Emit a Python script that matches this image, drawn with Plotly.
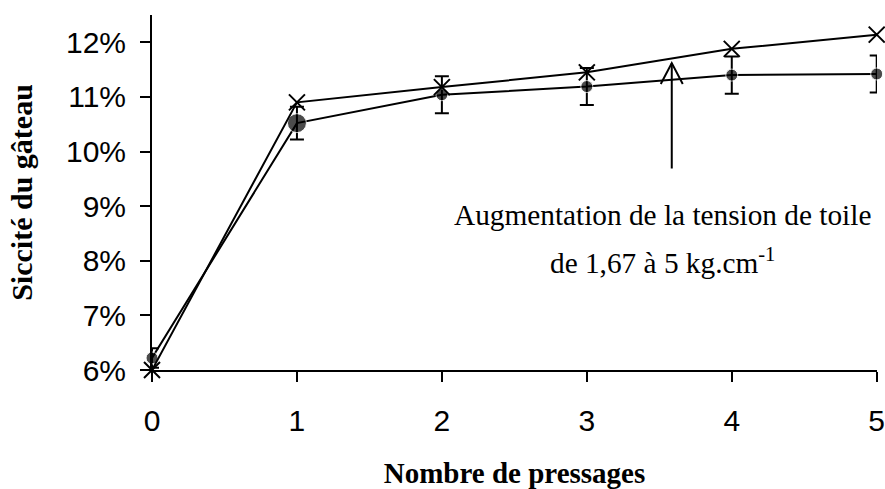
import plotly.graph_objects as go

pressages = [0, 1, 2, 3, 4, 5]
siccite_cross = [6.0, 10.9, 11.18, 11.45, 11.88, 12.14]
siccite_rond = [6.22, 10.52, 11.04, 11.19, 11.40, 11.42]
erreur_rond = [0.18, 0.30, 0.34, 0.34, 0.34, 0.34]
taille_rond = [12, 19, 12, 12, 12, 12]
y_ticks = [6, 7, 8, 9, 10, 11, 12]
y_ticktext = ["6%", "7%", "8%", "9%", "10%", "11%", "12%"]
x_ticks = [0, 1, 2, 3, 4, 5]

annot_x = 3.52
arrow_x = 3.586
arrow_tip = 11.62
arrow_tail = 9.66

fig = go.Figure()
fig.add_trace(go.Scatter(
    x=pressages, y=siccite_rond, mode="lines+markers",
    line=dict(color="black", width=2),
    marker=dict(symbol="circle", size=taille_rond, color="black"),
    error_y=dict(type="data", array=erreur_rond, color="black", thickness=2, width=7),
    cliponaxis=False, showlegend=False))
fig.add_trace(go.Scatter(
    x=pressages, y=siccite_cross, mode="lines+markers",
    line=dict(color="black", width=2),
    marker=dict(symbol="x-thin-open", size=16, color="black", line=dict(color="black", width=2)),
    cliponaxis=False, showlegend=False))

# arrow line
fig.add_annotation(x=arrow_x, y=arrow_tip, ax=arrow_x, ay=arrow_tail, xref="x", yref="y",
                   axref="x", ayref="y", showarrow=True, arrowhead=0, arrowwidth=2,
                   arrowcolor="black", text="")
# arrow head (open)
fig.add_shape(type="path", xref="x", yref="y", xsizemode="pixel", ysizemode="pixel",
              xanchor=arrow_x, yanchor=arrow_tip, path="M-11,-21 L0,0 L11,-21",
              line=dict(color="black", width=2))

serif = "Liberation Serif, Times New Roman, serif"
fig.add_annotation(x=annot_x, y=8.84, xref="x", yref="y", showarrow=False,
                   text="Augmentation de la tension de toile",
                   font=dict(family=serif, size=29.3, color="black"))
fig.add_annotation(x=annot_x, y=8.0, xref="x", yref="y", showarrow=False,
                   text="de 1,67 à 5 kg.cm<sup>-1</sup>",
                   font=dict(family=serif, size=29.3, color="black"))

sans = "Liberation Sans, Arial, sans-serif"
fig.update_layout(
    width=885, height=489,
    margin=dict(l=152, r=8, t=15, b=119, autoexpand=False),
    paper_bgcolor="white", plot_bgcolor="white",
    font=dict(family=sans, size=30, color="black"),
    xaxis=dict(range=[0, 5.002], tickvals=x_ticks, showgrid=False, zeroline=False,
               showline=True, linecolor="black", linewidth=2, automargin=False,
               ticks="outside", ticklen=10, tickwidth=2, tickcolor="black",
               ticklabelstandoff=13, ticklabeloverflow="allow",
               tickfont=dict(family=sans, size=30),
               title=dict(text="<b>Nombre de pressages</b>",
                          font=dict(family=serif, size=29), standoff=30)),
    yaxis=dict(range=[6, 12.5], tickvals=y_ticks, ticktext=y_ticktext,
               showgrid=False, zeroline=False, automargin=False,
               showline=True, linecolor="black", linewidth=2,
               ticks="outside", ticklen=10, tickwidth=2, tickcolor="black",
               ticklabelstandoff=8,
               tickfont=dict(family=sans, size=30),
               title=dict(text="<b>Siccité du gâteau</b>",
                          font=dict(family=serif, size=30), standoff=24)),
)

fig.write_html("out.html", config={"displayModeBar": False},
               post_script="document.body.style.margin='0';")
